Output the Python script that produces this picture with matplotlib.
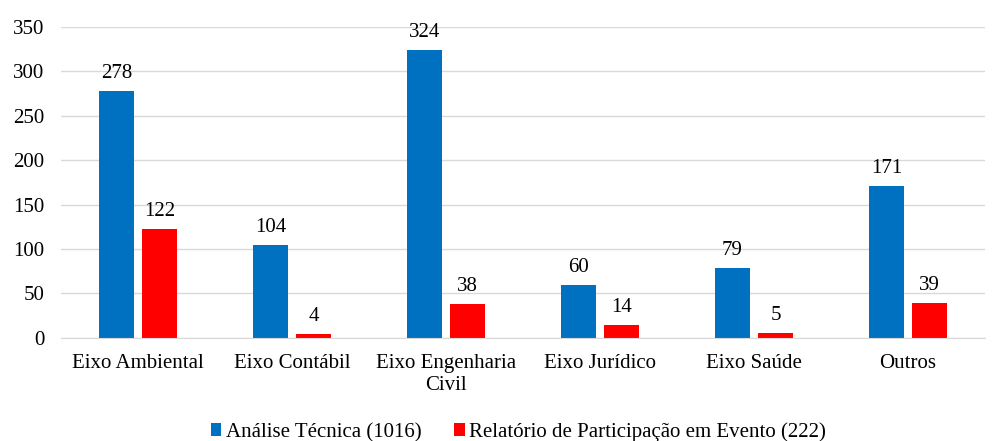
import numpy as np
import matplotlib.pyplot as plt

categorias = ['Eixo Ambiental', 'Eixo Contábil', 'Eixo Engenharia\nCivil',
              'Eixo Jurídico', 'Eixo Saúde', 'Outros']
analise = [278, 104, 324, 60, 79, 171]
relatorio = [122, 4, 38, 14, 5, 39]
rotulos = ['Análise Técnica (1016)', 'Relatório de Participação em Evento (222)']

plt.rcParams['font.family'] = 'serif'
plt.rcParams['font.serif'] = ['Liberation Serif', 'DejaVu Serif']

fig = plt.figure(figsize=(9.97, 4.41), dpi=100)
ax = fig.add_axes([0.061, 0.234, 0.927, 0.705])

x = np.arange(len(categorias))
w = 0.23
b1 = ax.bar(x - w / 2 - 0.025, analise, w, color='#0070C0', label=rotulos[0])
b2 = ax.bar(x + w / 2 + 0.025, relatorio, w, color='#FF0000', label=rotulos[1])

fs = 15
for barras in (b1, b2):
    for r in barras:
        ax.text(r.get_x() + r.get_width() / 2, r.get_height() + 9,
                str(int(r.get_height())), ha='center', va='bottom', fontsize=fs)

ax.set_ylim(0, 350)
ax.set_xlim(-0.5, len(categorias) - 0.5)
ax.set_yticks(range(0, 351, 50))
ax.set_xticks(x)
ax.set_xticklabels(categorias, fontsize=fs, linespacing=1.15)
ax.tick_params(axis='y', labelsize=fs, length=0, pad=12)
ax.tick_params(axis='x', length=0, pad=12)
ax.yaxis.grid(True, color='#D9D9D9', linewidth=1)
ax.set_axisbelow(True)
for s in ['top', 'right', 'left']:
    ax.spines[s].set_visible(False)
ax.spines['bottom'].set_color('#D9D9D9')

fig.legend(handles=[b1, b2], loc='lower center', bbox_to_anchor=(0.52, -0.045),
           ncol=2, frameon=False, fontsize=fs, handlelength=0.5, handleheight=0.6,
           handletextpad=0.2, columnspacing=1.6)

fig.savefig('out.png', dpi=100)
